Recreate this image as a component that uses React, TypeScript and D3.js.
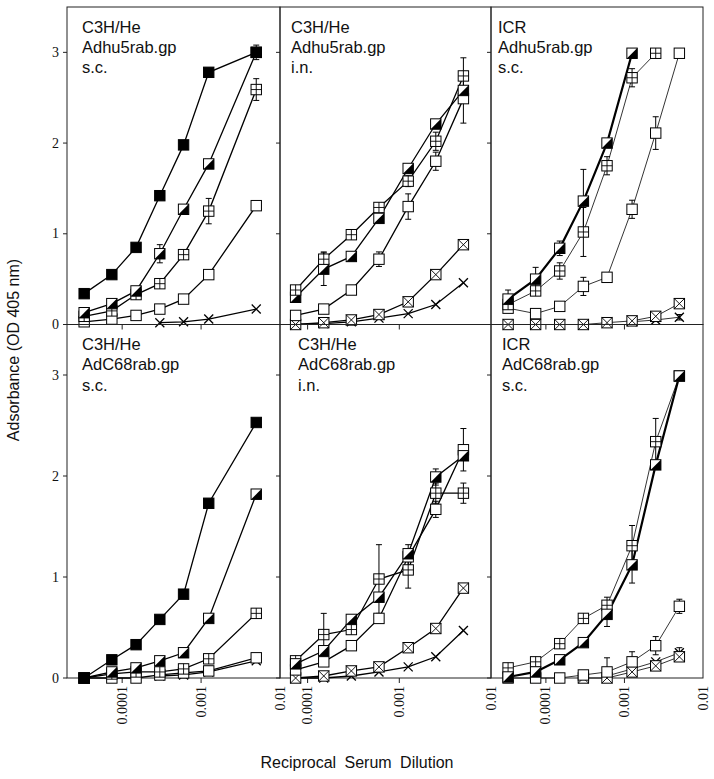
import React from 'react';
import * as d3 from 'd3';

// Reciprocal serum dilutions (log axis)
const dilutions = [3.3e-5, 7.4e-5, 1.5e-4, 3.0e-4, 6.0e-4, 1.25e-3, 2.5e-3, 5.0e-3];
const idxA = [0, 1, 2, 3, 4, 5, 7];
const idxB = [1, 2, 3, 4, 5, 6, 7];
const idxC = [0, 1, 2, 3, 4, 5, 6, 7];
const xTickValues = [1e-4, 1e-3, 1e-2];
const xTickLabels = ['0.0001', '0.001', '0.01'];
const yTicks = [0, 1, 2, 3];

// Panel 1: C3H/He Adhu5rab.gp s.c.
const p1Filled = [0.34, 0.55, 0.85, 1.42, 1.98, 2.78, 3.0];
const p1FilledErr = [0, 0, 0, 0, 0, 0, 0.08];
const p1Half = [0.13, 0.23, 0.37, 0.78, 1.27, 1.77, 3.0];
const p1HalfErr = [0, 0, 0, 0.1, 0, 0, 0];
const p1Plus = [0.09, 0.15, 0.33, 0.45, 0.77, 1.25, 2.59];
const p1PlusErr = [0, 0, 0, 0, 0, 0.14, 0.12];
const p1Open = [0.03, 0.06, 0.1, 0.17, 0.28, 0.55, 1.31];
const p1Cross = [null, null, null, 0.02, 0.03, 0.06, 0.17];

// Panel 2: C3H/He Adhu5rab.gp i.n.
const p2Plus = [0.38, 0.72, 0.99, 1.29, 1.58, 2.02, 2.74];
const p2PlusErr = [0.03, 0.08, 0, 0, 0.06, 0.1, 0.2];
const p2Half = [0.3, 0.61, 0.75, 1.17, 1.72, 2.21, 2.58];
const p2HalfErr = [0.05, 0.18, 0, 0, 0, 0.04, 0];
const p2Open = [0.1, 0.17, 0.38, 0.72, 1.3, 1.8, 2.49];
const p2OpenErr = [0, 0, 0, 0.08, 0.14, 0.1, 0.27];
const p2XBox = [0.0, 0.02, 0.05, 0.11, 0.25, 0.55, 0.88];
const p2Cross = [0.0, 0.01, 0.03, 0.07, 0.12, 0.22, 0.46];

// Panel 3: ICR Adhu5rab.gp s.c.
const p3Half = [0.28, 0.5, 0.84, 1.36, 2.0, 2.99, null, null];
const p3HalfErr = [0.1, 0.13, 0.08, 0.35, 0, 0, 0, 0];
const p3Plus = [0.22, 0.37, 0.59, 1.02, 1.75, 2.72, 2.99, null];
const p3PlusErr = [0.07, 0, 0.09, 0.27, 0.1, 0.1, 0, 0];
const p3Open = [0.18, 0.12, 0.2, 0.42, 0.52, 1.27, 2.11, 2.99];
const p3OpenErr = [0, 0, 0, 0.1, 0, 0.1, 0.18, 0];
const p3XBox = [0, 0, 0, 0, 0.02, 0.04, 0.09, 0.23];
const p3Cross = [null, null, null, null, null, 0.03, 0.05, 0.08];
const p3CrossErr = [0, 0, 0, 0, 0, 0, 0, 0.03];

// Panel 4: C3H/He AdC68rab.gp s.c.
const p4Filled = [0.0, 0.18, 0.33, 0.58, 0.83, 1.73, 2.53];
const p4Half = [0.0, 0.06, 0.1, 0.17, 0.25, 0.59, 1.82];
const p4Plus = [0.0, 0.04, 0.06, 0.06, 0.09, 0.19, 0.64];
const p4Open = [0.0, 0.0, 0.0, 0.03, 0.05, 0.07, 0.2];
const p4Cross = [null, null, null, 0.02, 0.03, 0.06, 0.17];

// Panel 5: C3H/He AdC68rab.gp i.n.
const p5Plus = [0.17, 0.43, 0.48, 0.98, 1.07, 1.83, 1.83];
const p5PlusErr = [0, 0.21, 0, 0.34, 0.18, 0.1, 0.1];
const p5Half = [0.14, 0.27, 0.58, 0.8, 1.23, 1.99, 2.2];
const p5HalfErr = [0, 0, 0, 0, 0, 0.08, 0];
const p5Open = [0.08, 0.16, 0.32, 0.59, 1.2, 1.67, 2.26];
const p5OpenErr = [0, 0, 0, 0, 0.12, 0.08, 0.21];
const p5XBox = [0.0, 0.02, 0.07, 0.11, 0.3, 0.49, 0.89];
const p5Cross = [0.0, 0.0, 0.02, 0.06, 0.11, 0.21, 0.47];

// Panel 6: ICR AdC68rab.gp s.c.
const p6Half = [0.01, 0.06, 0.18, 0.35, 0.63, 1.12, 2.11, 2.99];
const p6HalfErr = [0, 0, 0, 0, 0.12, 0.18, 0, 0];
const p6Plus = [0.1, 0.16, 0.34, 0.59, 0.72, 1.31, 2.34, 2.99];
const p6PlusErr = [0, 0, 0, 0, 0.08, 0.2, 0.23, 0];
const p6Open = [0, 0, 0, 0.03, 0.06, 0.16, 0.32, 0.71];
const p6OpenErr = [0, 0, 0, 0, 0.14, 0.1, 0.09, 0.07];
const p6XBox = [null, null, null, 0, 0, 0.06, 0.12, 0.21];
const p6Cross = [null, null, null, null, 0.02, 0.09, 0.16, 0.25];
const p6CrossErr = [0, 0, 0, 0, 0, 0, 0, 0.05];

type Marker = 'filled' | 'half' | 'plus' | 'open' | 'xbox' | 'cross';
interface Series { marker: Marker; values: (number | null)[]; errors?: number[]; width: number; }
interface Panel { title: string[]; idx: number[]; xMin: number; col: number; row: number; textX: number; series: Series[]; }

const thick = 1.3;
const panels: Panel[] = [
  { title: ['C3H/He', 'Adhu5rab.gp', 's.c.'], idx: idxA, xMin: 2e-5, col: 0, row: 0, textX: 82,
    series: [
      { marker: 'cross', values: p1Cross, width: thick },
      { marker: 'open', values: p1Open, width: thick },
      { marker: 'plus', values: p1Plus, errors: p1PlusErr, width: thick },
      { marker: 'half', values: p1Half, errors: p1HalfErr, width: thick },
      { marker: 'filled', values: p1Filled, errors: p1FilledErr, width: thick },
    ] },
  { title: ['C3H/He', 'Adhu5rab.gp', 'i.n.'], idx: idxB, xMin: 5e-5, col: 1, row: 0, textX: 291,
    series: [
      { marker: 'cross', values: p2Cross, width: thick },
      { marker: 'xbox', values: p2XBox, width: thick },
      { marker: 'open', values: p2Open, errors: p2OpenErr, width: thick },
      { marker: 'half', values: p2Half, errors: p2HalfErr, width: thick },
      { marker: 'plus', values: p2Plus, errors: p2PlusErr, width: thick },
    ] },
  { title: ['ICR', 'Adhu5rab.gp', 's.c.'], idx: idxC, xMin: 2e-5, col: 2, row: 0, textX: 498,
    series: [
      { marker: 'cross', values: p3Cross, errors: p3CrossErr, width: 0.8 },
      { marker: 'xbox', values: p3XBox, width: 0.8 },
      { marker: 'open', values: p3Open, errors: p3OpenErr, width: 0.8 },
      { marker: 'plus', values: p3Plus, errors: p3PlusErr, width: 0.8 },
      { marker: 'half', values: p3Half, errors: p3HalfErr, width: 2.2 },
    ] },
  { title: ['C3H/He', 'AdC68rab.gp', 's.c.'], idx: idxA, xMin: 2e-5, col: 0, row: 1, textX: 82,
    series: [
      { marker: 'cross', values: p4Cross, width: thick },
      { marker: 'open', values: p4Open, width: thick },
      { marker: 'plus', values: p4Plus, width: thick },
      { marker: 'half', values: p4Half, width: thick },
      { marker: 'filled', values: p4Filled, width: thick },
    ] },
  { title: ['C3H/He', 'AdC68rab.gp', 'i.n.'], idx: idxB, xMin: 5e-5, col: 1, row: 1, textX: 298,
    series: [
      { marker: 'cross', values: p5Cross, width: thick },
      { marker: 'xbox', values: p5XBox, width: thick },
      { marker: 'open', values: p5Open, errors: p5OpenErr, width: thick },
      { marker: 'plus', values: p5Plus, errors: p5PlusErr, width: thick },
      { marker: 'half', values: p5Half, errors: p5HalfErr, width: thick },
    ] },
  { title: ['ICR', 'AdC68rab.gp', 's.c.'], idx: idxC, xMin: 2e-5, col: 2, row: 1, textX: 502,
    series: [
      { marker: 'cross', values: p6Cross, errors: p6CrossErr, width: 0.8 },
      { marker: 'xbox', values: p6XBox, width: 0.8 },
      { marker: 'open', values: p6Open, errors: p6OpenErr, width: 0.8 },
      { marker: 'plus', values: p6Plus, errors: p6PlusErr, width: 0.8 },
      { marker: 'half', values: p6Half, errors: p6HalfErr, width: 2.2 },
    ] },
];

const colEdges = [67, 280, 491, 703];
const rowEdges = [7, 324.5, 678];
const SERIF = '"Liberation Serif", "Times New Roman", serif';
const SANS = '"Liberation Sans", Arial, Helvetica, sans-serif';

function MarkerShape({ m, x, y }: { m: Marker; x: number; y: number }) {
  const s = 5.2;
  const sw = 1;
  if (m === 'cross') {
    const c = 4.5;
    return (
      <g stroke="#000" strokeWidth={1.3}>
        <line x1={x - c} y1={y - c} x2={x + c} y2={y + c} />
        <line x1={x - c} y1={y + c} x2={x + c} y2={y - c} />
      </g>
    );
  }
  if (m === 'filled') {
    return <rect x={x - s} y={y - s} width={2 * s} height={2 * s} fill="#000" stroke="#000" strokeWidth={sw} />;
  }
  return (
    <g>
      <rect x={x - s} y={y - s} width={2 * s} height={2 * s} fill="#fff" stroke="#000" strokeWidth={sw} />
      {m === 'half' && <polygon points={`${x + s},${y - s} ${x + s},${y + s} ${x - s},${y + s}`} fill="#000" />}
      {m === 'plus' && (
        <g stroke="#000" strokeWidth={0.9}>
          <line x1={x - s} y1={y} x2={x + s} y2={y} />
          <line x1={x} y1={y - s} x2={x} y2={y + s} />
        </g>
      )}
      {m === 'xbox' && (
        <g stroke="#000" strokeWidth={0.9}>
          <line x1={x - s} y1={y - s} x2={x + s} y2={y + s} />
          <line x1={x - s} y1={y + s} x2={x + s} y2={y - s} />
        </g>
      )}
    </g>
  );
}

function PanelView({ p }: { p: Panel }) {
  const x0 = colEdges[p.col];
  const x1 = colEdges[p.col + 1];
  const yTop = rowEdges[p.row];
  const yBot = rowEdges[p.row + 1];
  const x = d3.scaleLog().domain([p.xMin, 0.01]).range([x0, x1]);
  const y = d3.scaleLinear().domain([0, 3.5]).range([yBot, yTop]);
  const xs = p.idx.map((i) => dilutions[i]);
  const line = d3
    .line<[number, number | null]>()
    .defined((d) => d[1] !== null)
    .x((d) => x(d[0]))
    .y((d) => y(d[1] as number));

  return (
    <g>
      <rect x={x0} y={yTop} width={x1 - x0} height={yBot - yTop} fill="none" stroke="#222" strokeWidth={1} />
      {yTicks.map((t) => (
        <line key={'yt' + t} x1={x0 - 4} x2={x0} y1={y(t)} y2={y(t)} stroke="#222" strokeWidth={1} />
      ))}
      {p.col === 0 &&
        yTicks.map((t) => (
          <text key={'yl' + t} x={x0 - 8} y={y(t)} textAnchor="end" dominantBaseline="central"
            fontFamily={SERIF} fontSize={14} fill="#111">
            {t}
          </text>
        ))}
      {xTickValues.slice(0, 2).map((t) => (
        <line key={'xt' + t} x1={x(t)} x2={x(t)} y1={yBot} y2={yBot + 5} stroke="#222" strokeWidth={1} />
      ))}
      {p.row === 1 &&
        xTickValues.map((t, i) => (
          <text key={'xl' + t} transform={`translate(${x(t)},${yBot + 8}) rotate(-90)`} textAnchor="end"
            dominantBaseline="central" fontFamily={SERIF} fontSize={14} fill="#111">
            {xTickLabels[i]}
          </text>
        ))}
      {p.title.map((t, i) => (
        <text key={'ti' + i} x={p.textX} y={yTop + 25.5 + i * 20.3} fontFamily={SANS} fontSize={16.5} fill="#111">
          {t}
        </text>
      ))}
      {p.series.map((s, si) => (
        <path key={'l' + si} d={line(xs.map((d, i) => [d, s.values[i]]) as [number, number | null][]) || ''}
          fill="none" stroke="#000" strokeWidth={s.width} />
      ))}
      {p.series.map((s, si) =>
        (s.errors || []).map((e, i) => {
          const v = s.values[i];
          if (!e || v === null) return null;
          const cx = x(xs[i]);
          const ya = y(v + e);
          const yb = y(Math.max(0, v - e));
          return (
            <g key={'e' + si + '-' + i} stroke="#000" strokeWidth={1}>
              <line x1={cx} x2={cx} y1={ya} y2={yb} />
              <line x1={cx - 3} x2={cx + 3} y1={ya} y2={ya} />
              <line x1={cx - 3} x2={cx + 3} y1={yb} y2={yb} />
            </g>
          );
        })
      )}
      {p.series.map((s, si) =>
        s.values.map((v, i) =>
          v === null ? null : <MarkerShape key={'m' + si + '-' + i} m={s.marker} x={x(xs[i])} y={y(v)} />
        )
      )}
    </g>
  );
}

export default function App() {
  return (
    <svg width={714} height={779} style={{ position: 'absolute', left: 0, top: 0, background: '#fff' }}>
      <rect x={0} y={0} width={714} height={779} fill="#fff" />
      {panels.map((p, i) => (
        <PanelView key={i} p={p} />
      ))}
      <text transform="translate(19,350) rotate(-90)" textAnchor="middle" fontFamily={SANS} fontSize={16} fill="#111">
        Adsorbance (OD 405 nm)
      </text>
      <text x={357} y={768} textAnchor="middle" fontFamily={SANS} fontSize={16} wordSpacing={4} fill="#111">
        Reciprocal Serum Dilution
      </text>
    </svg>
  );
}
